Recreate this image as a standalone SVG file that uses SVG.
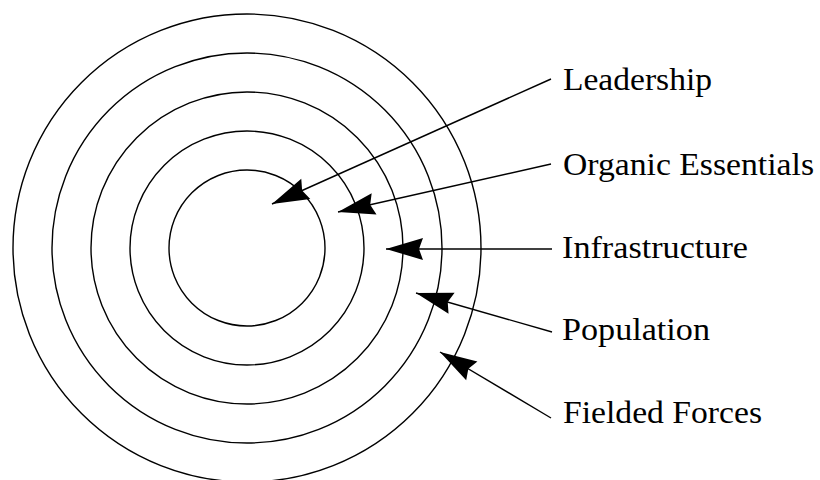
<svg xmlns="http://www.w3.org/2000/svg" width="820" height="480" viewBox="0 0 820 480">
<style>
.ring{fill:none;stroke:#000;stroke-width:1.4}
.conn{fill:none;stroke:#000;stroke-width:1.4;marker-end:url(#ah)}
.lbl{font-family:"Liberation Serif","Times New Roman",serif;font-size:31px;fill:#000}
</style>
<defs>
<marker id="ah" markerUnits="userSpaceOnUse" orient="auto" markerWidth="40" markerHeight="26" refX="38" refY="12" viewBox="0 0 40 26" overflow="visible">
<path d="M38,12 L1,1 L5,12 L1,23 Z" fill="#000"/>
</marker>
</defs>
<rect width="820" height="480" fill="#fff"/>
<g id="rings">
<circle id="ring1" class="ring" cx="247" cy="248" r="78"/>
<circle id="ring2" class="ring" cx="247" cy="248" r="117"/>
<circle id="ring3" class="ring" cx="247" cy="248" r="156"/>
<circle id="ring4" class="ring" cx="247" cy="248" r="195"/>
<circle id="ring5" class="ring" cx="247" cy="248" r="234"/>
</g>
<g id="connectors">
<line class="conn" x1="551" y1="79" x2="272" y2="204"/>
<line class="conn" x1="551" y1="164" x2="338" y2="212"/>
<line class="conn" x1="552" y1="249" x2="386" y2="249"/>
<line class="conn" x1="552" y1="332" x2="416" y2="293"/>
<line class="conn" x1="551" y1="418" x2="440" y2="352"/>
</g>
<g id="leadership"><text class="lbl" x="563" y="90" textLength="149" lengthAdjust="spacingAndGlyphs">Leadership</text></g>
<g id="organic"><text class="lbl" x="563" y="175" textLength="251" lengthAdjust="spacingAndGlyphs">Organic Essentials</text></g>
<g id="infrastructure"><text class="lbl" x="562" y="258" textLength="186" lengthAdjust="spacingAndGlyphs">Infrastructure</text></g>
<g id="population"><text class="lbl" x="562" y="340" textLength="148" lengthAdjust="spacingAndGlyphs">Population</text></g>
<g id="fielded"><text class="lbl" x="563" y="423" textLength="199" lengthAdjust="spacingAndGlyphs">Fielded Forces</text></g>
</svg>
